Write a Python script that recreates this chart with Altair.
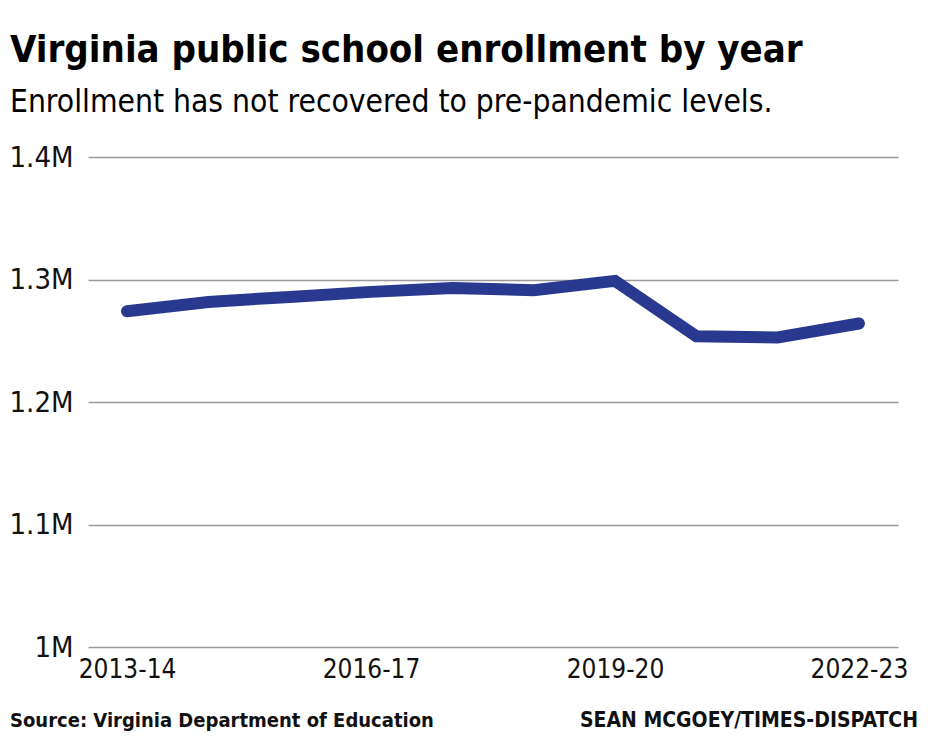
import altair as alt
import pandas as pd

years = ["2013-14", "2014-15", "2015-16", "2016-17", "2017-18",
         "2018-19", "2019-20", "2020-21", "2021-22", "2022-23"]
enrollment = [1274100, 1281700, 1285800, 1289900, 1293100,
              1291300, 1298900, 1253700, 1252700, 1264100]
y_ticks = [1000000, 1100000, 1200000, 1300000, 1400000]
x_ticks = ["2013-14", "2016-17", "2019-20", "2022-23"]

title_text = "Virginia public school enrollment by year"
subtitle_text = "Enrollment has not recovered to pre-pandemic levels."
source_text = "Source: Virginia Department of Education"
credit_text = "SEAN MCGOEY/TIMES-DISPATCH"

df = pd.DataFrame({"year": years, "enrollment": enrollment})

FONT = "DejaVu Sans Condensed"

line = alt.Chart(df).mark_line(
    color="#293990", strokeWidth=12, strokeCap="round", strokeJoin="miter"
).encode(
    x=alt.X("year:O", sort=years,
            scale=alt.Scale(type="point", padding=0.48),
            axis=alt.Axis(values=x_ticks, title=None, domain=False, ticks=False,
                          labelAngle=0, labelFont=FONT, labelFontSize=26,
                          labelColor="#111111", labelPadding=9, grid=False)),
    y=alt.Y("enrollment:Q",
            scale=alt.Scale(domain=[1000000, 1400000], nice=False, zero=False),
            axis=alt.Axis(values=y_ticks, title=None, domain=False, ticks=False,
                          labelExpr="datum.value == 1000000 ? '1M' : format(datum.value/1000000, '.1f') + 'M'",
                          labelFont=FONT, labelFontSize=29, labelColor="#111111",
                          labelPadding=15, gridColor="#9a9a9a", gridWidth=1.6))
)

def txt(s, x, y, size, weight="normal", align="left", color="#000000"):
    return alt.Chart(pd.DataFrame({"t": [s]})).mark_text(
        font=FONT, fontSize=size, fontWeight=weight, align=align,
        baseline="alphabetic", color=color
    ).encode(x=alt.value(x), y=alt.value(y), text="t:N")

chart = alt.layer(
    line,
    txt(title_text, -78, -95, 38, "bold"),
    txt(subtitle_text, -78, -45, 31.5),
    txt(source_text, -78, 570, 20, "bold", color="#111111"),
    txt(credit_text, 830, 570, 21, "bold", align="right", color="#111111"),
).properties(
    width=810, height=490,
    background="white",
    autosize=alt.AutoSizeParams(type="none"),
    padding={"left": 80, "top": 149, "right": 22, "bottom": 85},
).configure_view(stroke=None, strokeWidth=0)

chart.save("out.html", embed_options={"renderer": "svg", "actions": False})
